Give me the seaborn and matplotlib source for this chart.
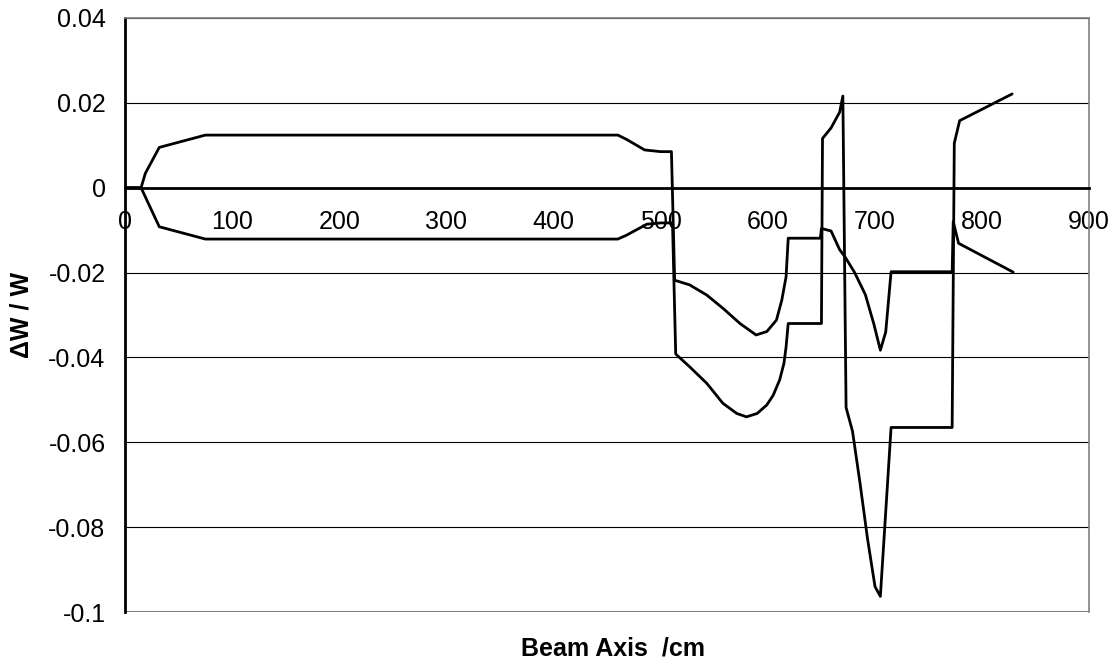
import matplotlib
matplotlib.use("Agg")
import matplotlib.pyplot as plt
import seaborn as sns
import pandas as pd

sns.set_style("white")
plt.rcParams['font.family'] = ['Liberation Sans', 'DejaVu Sans']
plt.rcParams['text.color'] = 'black'
plt.rcParams['xtick.color'] = 'black'
plt.rcParams['ytick.color'] = 'black'
plt.rcParams['axes.labelcolor'] = 'black'

# Series A (beam axis position /cm, dW/W)
xa = [0, 15, 19, 32, 75, 460, 468, 485, 500, 510, 513, 527, 543, 558, 574, 589, 599,
      608, 613, 617, 619, 649, 650, 659, 667, 672, 681, 691, 699, 705, 710, 715,
      772, 773, 778, 829]
ya = [0, 0, 0.0034, 0.0095, 0.0124, 0.0124, 0.0114, 0.0089, 0.0085, 0.0085, -0.0218,
      -0.0229, -0.0253, -0.0284, -0.0320, -0.0347, -0.0339, -0.0312, -0.0265, -0.0210,
      -0.0119, -0.0119, -0.0096, -0.0102, -0.0146, -0.0163, -0.0200, -0.0252, -0.0322,
      -0.0383, -0.0340, -0.0198, -0.0198, -0.0080, -0.0131, -0.0199]

# Series B
xb = [0, 15, 32, 75, 460, 468, 487, 500, 511, 514, 527, 543, 558, 571, 580, 590, 599,
      605, 611, 615, 617, 619, 650, 651, 659, 667, 670, 673, 679, 686, 693, 700, 705,
      715, 772, 774, 779, 828]
yb = [0, 0, -0.0092, -0.0121, -0.0121, -0.0112, -0.0086, -0.0083, -0.0083, -0.0392,
      -0.0422, -0.0461, -0.0508, -0.0532, -0.0540, -0.0532, -0.0512, -0.0489, -0.0453,
      -0.0414, -0.0375, -0.0320, -0.0320, 0.0116, 0.0141, 0.0178, 0.0216, -0.0518,
      -0.0574, -0.0696, -0.0827, -0.0940, -0.0963, -0.0565, -0.0565, 0.0105, 0.0158,
      0.0221]

x_ticks = [0, 100, 200, 300, 400, 500, 600, 700, 800, 900]
y_ticks = [0.04, 0.02, 0, -0.02, -0.04, -0.06, -0.08, -0.1]
y_tick_labels = ["0.04", "0.02", "0", "-0.02", "-0.04", "-0.06", "-0.08", "-0.1"]

df = pd.concat([
    pd.DataFrame({"x": xa, "y": ya, "series": "A"}),
    pd.DataFrame({"x": xb, "y": yb, "series": "B"}),
])

fig = plt.figure(figsize=(11.17, 6.66), dpi=100)
ax = fig.add_axes([0.1119, 0.081, 0.8633, 0.892])

for y in y_ticks:
    ax.axhline(y, color="black", lw=0.8, zorder=0)

sns.lineplot(data=df, x="x", y="y", units="series", estimator=None, sort=False,
             color="black", lw=2.0, ax=ax, legend=False, zorder=3)

ax.set_xlim(0, 900)
ax.set_ylim(-0.1, 0.04)
ax.set_xticks(x_ticks)
ax.set_xticklabels([str(v) for v in x_ticks])
ax.set_yticks(y_ticks)
ax.set_yticklabels(y_tick_labels)

ax.spines['bottom'].set_position(('data', 0))
ax.spines['bottom'].set_linewidth(2.0)
ax.spines['bottom'].set_color("black")
ax.spines['bottom'].set_zorder(4)
ax.spines['left'].set_linewidth(2.0)
ax.spines['left'].set_color("black")
for s in ('top', 'right'):
    ax.spines[s].set_color("#808080")
    ax.spines[s].set_linewidth(1.2)
ax.axhline(-0.1, color="#808080", lw=1.5, zorder=1)

ax.tick_params(axis='x', direction='out', length=6, width=2, labelsize=18, pad=10)
ax.tick_params(axis='y', direction='out', length=5, width=1.2, labelsize=18, pad=9)
ax.set_xlabel("")
ax.set_ylabel("")

fig.text(0.5487, 0.027, "Beam Axis  /cm", ha="center", va="center",
         fontsize=18, fontweight="bold")
fig.text(0.0194, 0.527, "\u0394W / W", ha="center", va="center", rotation=90,
         fontsize=18, fontweight="bold")

fig.savefig("out.png", dpi=100)
